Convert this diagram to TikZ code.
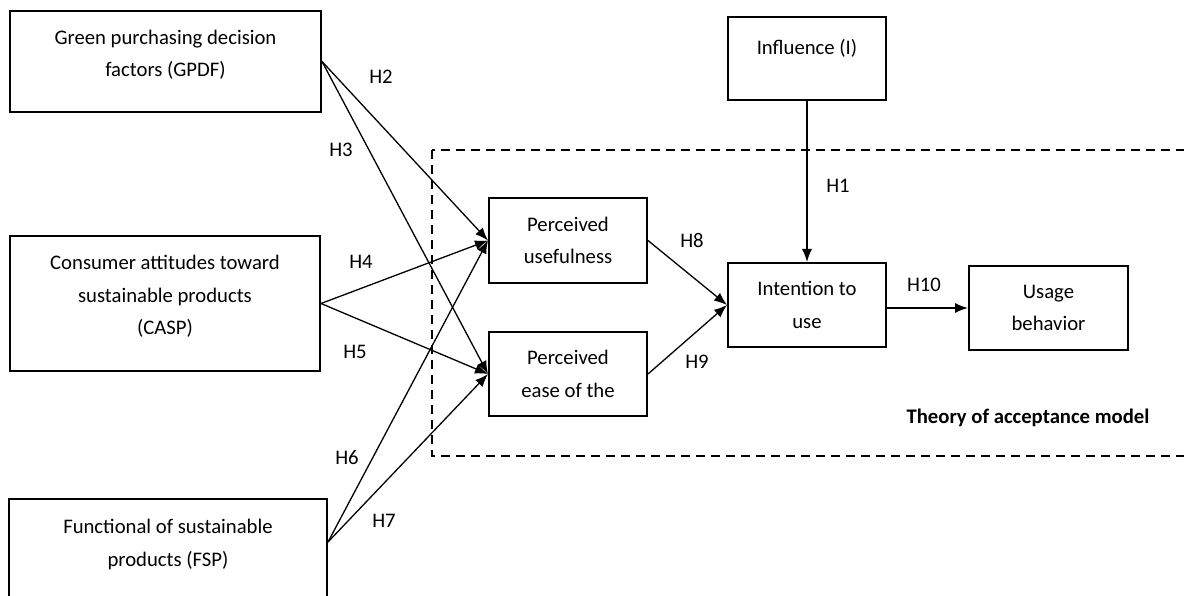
\documentclass[tikz,border=0pt]{standalone}
\usepackage{fontspec}
\setmainfont{Carlito}
\usetikzlibrary{arrows.meta}

\begin{document}
\begin{tikzpicture}[x=1pt,y=-1pt,
  factor/.style={draw,line width=2pt,align=center,inner sep=0pt,font=\fontsize{20.7}{32.5}\selectfont},
  hyp/.style={font=\fontsize{20.7}{25}\selectfont},
  link/.style={line width=1.3pt,-{Latex[length=13pt,width=10pt]}}]
\useasboundingbox (0,0) rectangle (1184,596);
\draw [line width=1.8pt,dash pattern=on 9pt off 6pt] (432,150) rectangle (1200,456);
\node [factor,minimum width=311pt,minimum height=101pt] (gpdf) at (165.5,61.5) {Green purchasing decision\\factors (GPDF)\\[-16pt]\mbox{}};
\node [factor,minimum width=310pt,minimum height=135pt] (casp) at (165,303.5) {Consumer attitudes toward\\sustainable products\\(CASP)\\[-16pt]\mbox{}};
\node [factor,minimum width=318pt,minimum height=104pt] (fsp) at (168,551) {Functional of sustainable\\products (FSP)\\[-16pt]\mbox{}};
\node [factor,minimum width=158pt,minimum height=83pt] (infl) at (807,58.5) {Influence (I)\\[-10pt]\mbox{}};
\node [factor,minimum width=158pt,minimum height=85pt] (pu) at (568,240.5) {Perceived\\usefulness};
\node [factor,minimum width=158pt,minimum height=84pt] (pe) at (568,374) {Perceived\\ease of the};
\node [factor,minimum width=158pt,minimum height=84pt] (itu) at (807,305) {Intention to\\use};
\node [factor,minimum width=159pt,minimum height=84pt] (ub) at (1048.5,308) {Usage\\behavior};
\node [hyp,font=\bfseries\fontsize{20.7}{25}\selectfont] (tam) at (1028,418) {Theory of acceptance model};
\draw [link] (gpdf.east) -- (pu.west);
\draw [link] (gpdf.east) -- (pe.west);
\draw [link] (casp.east) -- (pu.west);
\draw [link] (casp.east) -- (pe.west);
\draw [link] ([yshift=9pt]fsp.east) -- (pu.west);
\draw [link] ([yshift=9pt]fsp.east) -- (pe.west);
\draw [link] (pu.east) -- (itu.west);
\draw [link] (pe.east) -- (itu.west);
\draw [link] (infl.south) -- (itu.north);
\draw [link] (itu.east |- ub.west) -- (ub.west);
\node [hyp] (h1) at (838,186) {H1};
\node [hyp] (h2) at (381,77) {H2};
\node [hyp] (h3) at (341,150) {H3};
\node [hyp] (h4) at (361,262) {H4};
\node [hyp] (h5) at (355,352) {H5};
\node [hyp] (h6) at (347,458) {H6};
\node [hyp] (h7) at (384,521) {H7};
\node [hyp] (h8) at (692,241) {H8};
\node [hyp] (h9) at (697,362) {H9};
\node [hyp] (h10) at (924,285) {H10};
\end{tikzpicture}
\end{document}
